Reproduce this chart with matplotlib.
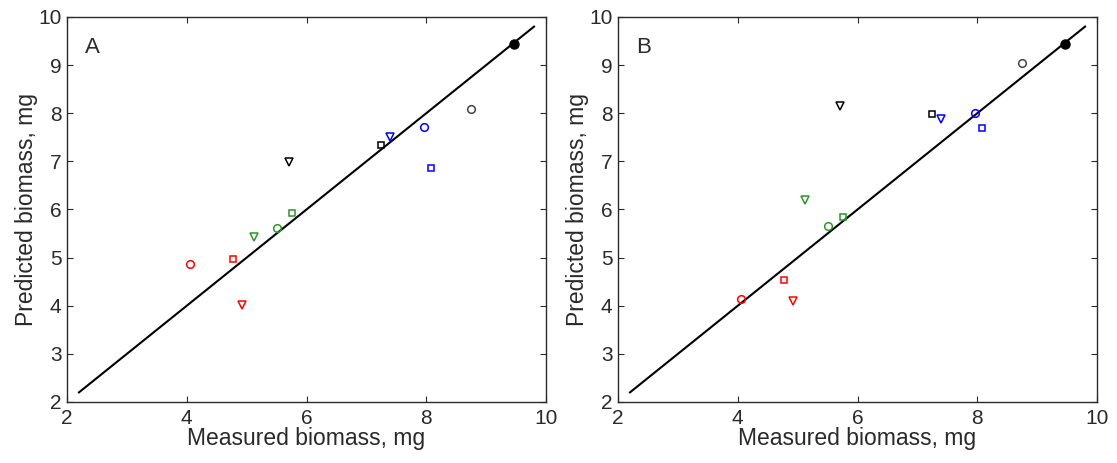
import matplotlib
matplotlib.use('Agg')
import matplotlib.pyplot as plt

plt.rcParams['font.family'] = ['Liberation Sans', 'DejaVu Sans']

# Measured biomass (same for both panels)
meas_red = [4.05, 4.78, 4.93]
meas_green = [5.13, 5.50, 5.76]
meas_black = [5.71, 7.24]
meas_blue = [7.39, 7.96, 8.08]
meas_gray = 8.75
meas_ref = 9.46

# Predicted biomass, panel A
predA_red = [4.87, 4.97, 4.02]
predA_green = [5.43, 5.62, 5.93]
predA_black = [6.98, 7.33]
predA_blue = [7.50, 7.72, 6.87]
predA_gray = 8.09
predA_ref = 9.44

# Predicted biomass, panel B
predB_red = [4.15, 4.53, 4.10]
predB_green = [6.20, 5.65, 5.85]
predB_black = [8.16, 7.99]
predB_blue = [7.88, 8.00, 7.70]
predB_gray = 9.04
predB_ref = 9.44

one_to_one = [2.2, 9.8]
ticks_x = [2, 4, 6, 8, 10]
ticks_y = [2, 3, 4, 5, 6, 7, 8, 9, 10]

green = '#2a962a'
txt = '#2a2a2a'
msize = {'o': 5.5, 's': 4.6, 'v': 5.8}


def pts(ax, xs, ys, marks, col):
    for x, y, m in zip(xs, ys, marks):
        ax.plot(x, y, marker=m, ms=msize[m], mfc='none', mec=col, mew=1.1,
                ls='none', zorder=3)


def draw_panel(ax, pred_red, pred_green, pred_black, pred_blue, pred_gray, pred_ref, tag):
    ax.plot(one_to_one, one_to_one, color='black', lw=1.5, zorder=1)
    pts(ax, meas_red, pred_red, ['o', 's', 'v'], 'red')
    pts(ax, meas_green, pred_green, ['v', 'o', 's'], green)
    pts(ax, meas_black, pred_black, ['v', 's'], 'black')
    pts(ax, meas_blue, pred_blue, ['v', 'o', 's'], 'blue')
    pts(ax, [meas_gray], [pred_gray], ['o'], '#444444')
    ax.plot(meas_ref, pred_ref, marker='o', color='black', ms=6.5, ls='none', zorder=4)

    ax.set_xlim(2, 10)
    ax.set_ylim(2, 10)
    ax.set_xticks(ticks_x)
    ax.set_yticks(ticks_y)
    ax.tick_params(direction='in', top=True, right=True, length=4, width=0.8,
                   labelsize=15, colors=txt)
    ax.tick_params(axis='x', pad=5)
    ax.tick_params(axis='y', pad=4)
    for s in ax.spines.values():
        s.set_linewidth(1.0)
        s.set_color(txt)
    ax.set_xlabel('Measured biomass, mg', fontsize=16.5, color=txt, labelpad=-1)
    ax.set_ylabel('Predicted biomass, mg', fontsize=16.5, color=txt, labelpad=0)
    ax.text(0.037, 0.92, tag, transform=ax.transAxes, fontsize=16, color=txt,
            ha='left', va='center')


fig = plt.figure(figsize=(11.17, 4.63), dpi=100)
axA = fig.add_axes([0.060, 0.1318, 0.4288, 0.8315])
axB = fig.add_axes([0.5533, 0.1318, 0.4288, 0.8315])

draw_panel(axA, predA_red, predA_green, predA_black, predA_blue, predA_gray, predA_ref, 'A')
draw_panel(axB, predB_red, predB_green, predB_black, predB_blue, predB_gray, predB_ref, 'B')

fig.savefig('out.png', dpi=100)
